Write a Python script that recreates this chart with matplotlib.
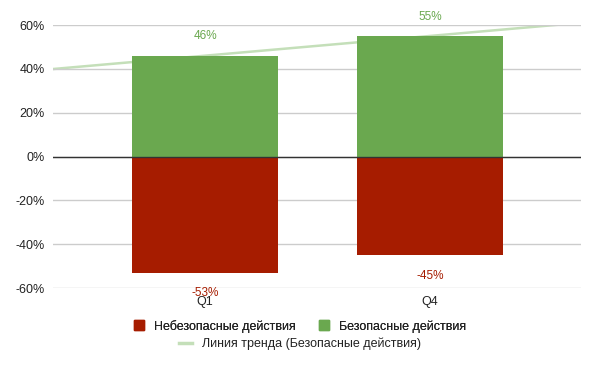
import numpy as np
import matplotlib.pyplot as plt
from matplotlib.lines import Line2D
from matplotlib.patches import Patch

plt.rcParams['font.family'] = ['Liberation Sans', 'DejaVu Sans']

quarters = ['Q1', 'Q4']
safe = [46, 55]
unsafe = [-53, -45]
yticks = [-60, -40, -20, 0, 20, 40, 60]

green = '#6aa84f'
red = '#a61c00'
trend_col = '#c4dfb9'

fig = plt.figure(figsize=(6, 3.71), dpi=100)
ax = fig.add_axes([0.0883, 0.2237, 0.8797, 0.7089])

x = np.arange(len(quarters))
w = 0.65
ax.bar(x, safe, w, color=green, zorder=2)
ax.bar(x, unsafe, w, color=red, zorder=2)

# linear trend through the safe series
xlim = (-0.676, 1.671)
k, b = np.polyfit(x, safe, 1)
xs = np.array(xlim)
ax.plot(xs, k * xs + b, color=trend_col, lw=1.8, zorder=1.5)

for i in range(len(quarters)):
    ax.annotate(f'{safe[i]}%', (x[i], safe[i]), xytext=(0, 14), textcoords='offset points',
                ha='center', va='center', color=green, fontsize=8.5)
    ax.annotate(f'{unsafe[i]}%', (x[i], unsafe[i]), xytext=(0, -15), textcoords='offset points',
                ha='center', va='center', color=red, fontsize=8.5)

ax.set_xlim(*xlim)
ax.set_ylim(-60, 60)
ax.set_yticks(yticks)
ax.set_yticklabels([f'{t}%' for t in yticks], fontsize=9, color='#222222')
ax.set_xticks(x)
ax.set_xticklabels(quarters, fontsize=9, color='#222222')
ax.tick_params(length=0)
ax.tick_params(axis='y', pad=6)
ax.tick_params(axis='x', pad=6)
ax.grid(axis='y', color='#cccccc', lw=1, zorder=0)
ax.axhline(0, color='#333333', lw=1, zorder=3)
for s in ax.spines.values():
    s.set_visible(False)

h1 = [Patch(color=red, label='Небезопасные действия'),
      Patch(color=green, label='Безопасные действия')]
leg1 = fig.legend(handles=h1, loc='center', bbox_to_anchor=(0.5, 0.121), ncol=2, frameon=False,
                  fontsize=9, handlelength=0.85, handleheight=0.85, columnspacing=1.8,
                  handletextpad=0.8, labelcolor='#222222')
h2 = [Line2D([], [], color=trend_col, lw=2.5, label='Линия тренда (Безопасные действия)')]
leg2 = fig.legend(handles=h2, loc='center', bbox_to_anchor=(0.5, 0.073), frameon=False,
                  fontsize=9, handlelength=1.0, handletextpad=0.8, labelcolor='#222222')
fig.add_artist(leg1)

fig.savefig('out.png', dpi=100)
